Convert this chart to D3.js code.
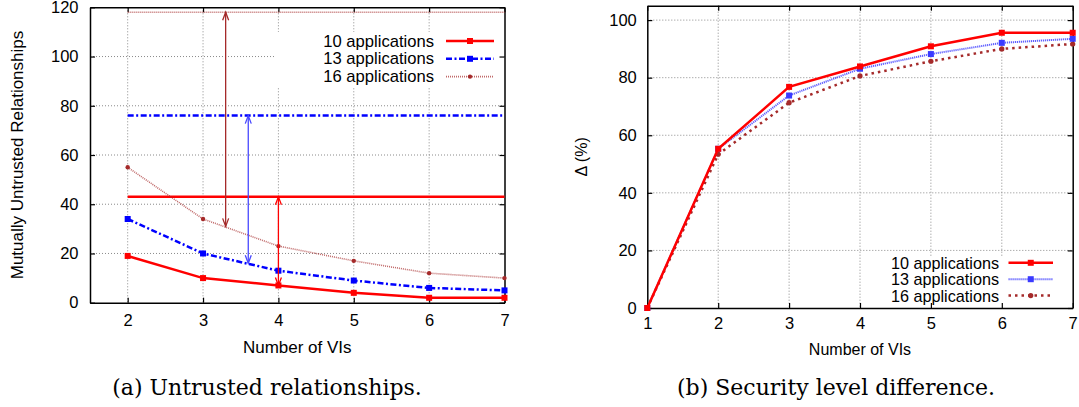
<!DOCTYPE html>
<html>
<head>
<meta charset="utf-8">
<script src="https://cdn.jsdelivr.net/npm/d3@7"></script>
<style>
  body { margin: 0; background: #fff; }
</style>
</head>
<body>
<script>
// ---- data ----
const seriesNames = ["10 applications", "13 applications", "16 applications"];

// (a) untrusted relationships
const leftVIs = [2, 3, 4, 5, 6, 7];
const left10 = [19, 10, 7, 4, 2, 2];
const left13 = [34, 20, 13, 9, 6, 5];
const left16 = [55, 34, 23, 17, 12, 10];
const leftLimits = [43, 76, 118];      // horizontal reference lines (10, 13, 16 apps)
const arrowVI = [4.0, 3.6, 3.3];       // where the difference arrows stand
const arrowLow = [7, 16, 31];          // lower end of each arrow
const leftXTicks = [2, 3, 4, 5, 6, 7];
const leftYTicks = [0, 20, 40, 60, 80, 100, 120];

// (b) security level difference
const rightVIs = [1, 2, 3, 4, 5, 6, 7];
const right10 = [0, 55.3, 76.8, 83.9, 90.9, 95.6, 95.6];
const right13 = [0, 55.3, 73.8, 83.1, 88.2, 92.1, 93.5];
const right16 = [0, 53.4, 71.3, 80.6, 85.7, 90.0, 91.7];
const rightXTicks = [1, 2, 3, 4, 5, 6, 7];
const rightYTicks = [0, 20, 40, 60, 80, 100];

// ---- styles ----
const RED = "#ff0000", BLUE = "#0000ff", BROWN = "#a52a2a";
const leftStyles = [
    { color: RED, width: 2.5, dash: null, opacity: 1, marker: "square", size: 6 },
    { color: BLUE, width: 2.5, dash: "6,2.5,2,2.5", opacity: 1, marker: "square", size: 6 },
    { color: BROWN, width: 1.6, dash: "1,1", opacity: 0.7, marker: "circle", size: 2.2 }
];
const rightStyles = [
    { color: RED, width: 2.5, dash: null, opacity: 1, marker: "square", size: 6 },
    { color: "#3a3aff", width: 2, dash: "1.2,0.8", opacity: 0.8, marker: "square", size: 6 },
    { color: BROWN, width: 2.5, dash: "2.5,4", opacity: 1, marker: "circle", size: 2.6 }
];
const arrowColors = [RED, "#4848ff", BROWN];

const svg = d3.select("body").append("svg")
    .attr("width", 1079)
    .attr("height", 407);

// arrow heads (open V, gnuplot style)
const defs = svg.append("defs");
arrowColors.forEach((c, i) => {
    defs.append("marker")
        .attr("id", "head" + i)
        .attr("viewBox", "-10 -5 12 10")
        .attr("refX", 0).attr("refY", 0)
        .attr("markerWidth", 12).attr("markerHeight", 10)
        .attr("markerUnits", "userSpaceOnUse")
        .attr("orient", "auto-start-reverse")
        .append("path")
        .attr("d", "M-8,-3L0,0L-8,3")
        .attr("fill", "none")
        .attr("stroke", c)
        .attr("stroke-width", 1.3);
});

// builds one framed gnuplot-like panel and returns its scales
function makePanel(p) {
    const x = d3.scaleLinear().domain(p.xDomain).range([p.left, p.right]);
    const y = d3.scaleLinear().domain(p.yDomain).range([p.bottom, p.top]);
    const g = svg.append("g");

    // dotted grid
    const grid = g.append("g")
        .attr("stroke", "#8a8a8a")
        .attr("stroke-width", 1)
        .attr("stroke-dasharray", "1,2");
    grid.selectAll(".gx").data(p.xTicks.filter(d => x(d) > p.left + 1 && x(d) < p.right - 1))
        .join("line")
        .attr("x1", d => x(d)).attr("x2", d => x(d))
        .attr("y1", p.top).attr("y2", p.bottom);
    grid.selectAll(".gy").data(p.yTicks.filter(d => y(d) < p.bottom - 1 && y(d) > p.top + 1))
        .join("line")
        .attr("x1", p.left).attr("x2", p.right)
        .attr("y1", d => y(d)).attr("y2", d => y(d));

    // opaque key box hides the grid behind it
    g.append("rect")
        .attr("x", p.keyBox[0]).attr("y", p.keyBox[1])
        .attr("width", p.keyBox[2]).attr("height", p.keyBox[3])
        .attr("fill", "#fff");

    // axes, ticks pointing inwards on all four sides
    const styleAxis = sel => {
        sel.select(".domain").attr("stroke", "#000").attr("stroke-width", 1.5);
        sel.selectAll(".tick line").attr("stroke", "#000").attr("stroke-width", 1.2);
        sel.selectAll("text")
            .attr("font-family", "'Liberation Sans', Arial, sans-serif")
            .attr("font-size", p.tickFont)
            .attr("fill", "#000");
    };
    g.append("g").attr("transform", `translate(0,${p.bottom})`)
        .call(d3.axisBottom(x).tickValues(p.xTicks).tickSizeInner(-5).tickSizeOuter(0)
            .tickPadding(p.xPad).tickFormat(d3.format("d")))
        .call(styleAxis);
    g.append("g").attr("transform", `translate(0,${p.top})`)
        .call(d3.axisTop(x).tickValues(p.xTicks).tickSizeInner(-5).tickSizeOuter(0).tickFormat(""))
        .call(styleAxis);
    g.append("g").attr("transform", `translate(${p.left},0)`)
        .call(d3.axisLeft(y).tickValues(p.yTicks).tickSizeInner(-5).tickSizeOuter(0)
            .tickPadding(p.yPad).tickFormat(d3.format("d")))
        .call(styleAxis);
    g.append("g").attr("transform", `translate(${p.right},0)`)
        .call(d3.axisRight(y).tickValues(p.yTicks).tickSizeInner(-5).tickSizeOuter(0).tickFormat(""))
        .call(styleAxis);

    // axis titles
    g.append("text")
        .attr("x", (p.left + p.right) / 2)
        .attr("y", p.xLabelY)
        .attr("text-anchor", "middle")
        .attr("dominant-baseline", "central")
        .attr("font-family", "'Liberation Sans', Arial, sans-serif")
        .attr("font-size", p.labelFont)
        .text("Number of VIs");
    g.append("text")
        .attr("transform", `translate(${p.yLabelX},${(p.top + p.bottom) / 2}) rotate(-90)`)
        .attr("text-anchor", "middle")
        .attr("dominant-baseline", "central")
        .attr("font-family", "'Liberation Sans', Arial, sans-serif")
        .attr("font-size", p.labelFont)
        .text(p.yLabel);

    // caption under the panel
    g.append("text")
        .attr("x", p.captionX)
        .attr("y", 395)
        .attr("text-anchor", "middle")
        .attr("font-family", "'DejaVu Serif', serif")
        .attr("font-size", "22px")
        .text(p.caption);

    return { g, x, y };
}

function drawMarker(sel, st, cx, cy) {
    if (st.marker === "square") {
        sel.append("rect")
            .attr("x", cx - st.size / 2).attr("y", cy - st.size / 2)
            .attr("width", st.size).attr("height", st.size)
            .attr("fill", st.color);
    } else {
        sel.append("circle")
            .attr("cx", cx).attr("cy", cy).attr("r", st.size)
            .attr("fill", st.color);
    }
}

function drawSeries(panel, vis, values, st) {
    const line = d3.line()
        .x((d, i) => panel.x(vis[i]))
        .y(d => panel.y(d));
    panel.g.append("path")
        .datum(values)
        .attr("d", line)
        .attr("fill", "none")
        .attr("stroke", st.color)
        .attr("stroke-width", st.width)
        .attr("stroke-dasharray", st.dash)
        .attr("stroke-opacity", st.opacity);
    const pts = panel.g.append("g");
    values.forEach((v, i) => drawMarker(pts, st, panel.x(vis[i]), panel.y(v)));
}

function drawKey(panel, styles, k) {
    const key = panel.g.append("g");
    seriesNames.forEach((name, i) => {
        const yy = k.y0 + i * k.dy;
        key.append("text")
            .attr("x", k.textX).attr("y", yy)
            .attr("text-anchor", "end")
            .attr("dominant-baseline", "central")
            .attr("font-family", "'Liberation Sans', Arial, sans-serif")
            .attr("font-size", k.font)
            .text(name);
        const st = styles[i];
        key.append("line")
            .attr("x1", k.x1).attr("x2", k.x2)
            .attr("y1", yy).attr("y2", yy)
            .attr("stroke", st.color)
            .attr("stroke-width", st.width)
            .attr("stroke-dasharray", st.dash)
            .attr("stroke-opacity", st.opacity);
        drawMarker(key, st, (k.x1 + k.x2) / 2, yy);
    });
}

// ---- (a) ----
const left = makePanel({
    left: 90, right: 504.5, top: 7.3, bottom: 302.7,
    xDomain: [1.5, 7], yDomain: [0, 120],
    xTicks: leftXTicks, yTicks: leftYTicks,
    xPad: 12, yPad: 11.5, tickFont: "16.5px", labelFont: "17px",
    xLabelY: 347, yLabelX: 17, yLabel: "Mutually Untrusted Relationships",
    keyBox: [276, 32, 226, 55],
    caption: "(a) Untrusted relationships.", captionX: 267
});

// horizontal reference lines, from the first VI to the last
leftLimits.forEach((v, i) => {
    const st = leftStyles[i];
    left.g.append("line")
        .attr("x1", left.x(leftVIs[0])).attr("x2", left.x(leftVIs[leftVIs.length - 1]))
        .attr("y1", left.y(v)).attr("y2", left.y(v))
        .attr("stroke", st.color)
        .attr("stroke-width", st.width)
        .attr("stroke-dasharray", st.dash)
        .attr("stroke-opacity", st.opacity);
});

drawSeries(left, leftVIs, left10, leftStyles[0]);
drawSeries(left, leftVIs, left13, leftStyles[1]);
drawSeries(left, leftVIs, left16, leftStyles[2]);

// double headed difference arrows
arrowVI.forEach((a, i) => {
    left.g.append("line")
        .attr("x1", left.x(a)).attr("x2", left.x(a))
        .attr("y1", left.y(arrowLow[i])).attr("y2", left.y(leftLimits[i]))
        .attr("stroke", arrowColors[i])
        .attr("stroke-width", 1.3)
        .attr("marker-start", `url(#head${i})`)
        .attr("marker-end", `url(#head${i})`);
});

drawKey(left, leftStyles, { y0: 41, dy: 17.8, textX: 434, x1: 446, x2: 494, font: "16.6px" });

// ---- (b) ----
const right = makePanel({
    left: 647.3, right: 1072.7, top: 5.7, bottom: 308,
    xDomain: [1, 7], yDomain: [0, 105],
    xTicks: rightXTicks, yTicks: rightYTicks,
    xPad: 9.5, yPad: 10.5, tickFont: "16.5px", labelFont: "16px",
    xLabelY: 349, yLabelX: 581, yLabel: "Δ (%)",
    keyBox: [876, 256, 195, 51],
    caption: "(b) Security level difference.", captionX: 836
});

drawSeries(right, rightVIs, right16, rightStyles[2]);
drawSeries(right, rightVIs, right13, rightStyles[1]);
drawSeries(right, rightVIs, right10, rightStyles[0]);

drawKey(right, rightStyles, { y0: 262.8, dy: 16.4, textX: 999, x1: 1008.5, x2: 1053, font: "16.2px" });
</script>
</body>
</html>
